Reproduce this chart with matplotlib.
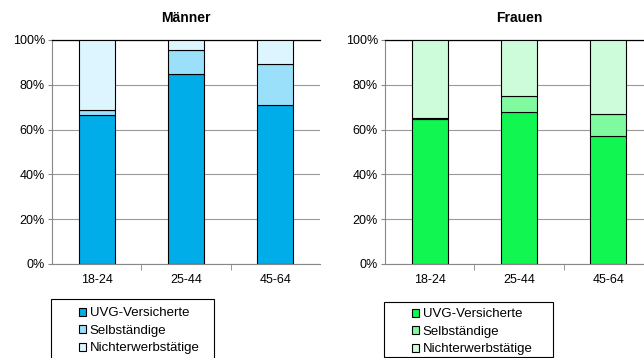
import matplotlib.pyplot as plt
from matplotlib.patches import Rectangle
import numpy as np

plt.rcParams['font.family'] = ['Liberation Sans', 'DejaVu Sans']

# data (percent)
groups = ['18-24', '25-44', '45-64']
series = ['UVG-Versicherte', 'Selbständige', 'Nichterwerbstätige']

maenner_uvg = [66.5, 84.7, 71.0]
maenner_selb = [2.2, 10.7, 18.1]
maenner_nicht = [31.3, 4.6, 10.9]

frauen_uvg = [64.7, 67.7, 57.0]
frauen_selb = [0.6, 7.3, 10.0]
frauen_nicht = [34.7, 25.0, 33.0]

blue_cols = ['#00ADE8', '#9BE0FB', '#DDF5FE']
green_cols = ['#11F650', '#80FA9F', '#CCFCD9']

W, H = 644, 358
fig = plt.figure(figsize=(W / 100, H / 100), dpi=100)


def px_axes(x0, y0, x1, y1):
    return fig.add_axes([x0 / W, 1 - y1 / H, (x1 - x0) / W, (y1 - y0) / H])


def draw_panel(ax, title, vals, cols):
    x = np.arange(len(groups))
    bottom = np.zeros(len(groups))
    handles = []
    for v, c, name in zip(vals, cols, series):
        b = ax.bar(x, v, 0.4, bottom=bottom, color=c, edgecolor='black',
                   linewidth=0.8, label=name, zorder=3)
        handles.append(b)
        bottom += np.array(v)
    ax.set_xlim(-0.5, len(groups) - 0.5)
    ax.set_ylim(0, 100)
    ax.set_yticks(np.arange(0, 101, 20))
    ax.set_yticklabels([f'{t}%' for t in range(0, 101, 20)], fontsize=9)
    ax.set_xticks(x)
    ax.set_xticklabels(groups, fontsize=9)
    ax.set_xticks(np.arange(0.5, len(groups) - 0.5, 1), minor=True)
    ax.tick_params(axis='x', which='major', length=0, pad=7)
    ax.tick_params(axis='x', which='minor', length=4, color='#888888', direction='out')
    ax.tick_params(axis='y', length=3, color='#888888', pad=2)
    ax.yaxis.grid(True, color='#999999', linewidth=0.8, zorder=0)
    ax.spines['right'].set_visible(False)
    ax.spines['top'].set_color('black')
    ax.spines['top'].set_linewidth(0.9)
    ax.spines['left'].set_color('#888888')
    ax.spines['bottom'].set_color('#888888')
    ax.set_title(title, fontsize=10, fontweight='bold', pad=13)
    return handles


ax1 = px_axes(52, 40, 320, 264)
ax2 = px_axes(385, 40, 653, 264)

h1 = draw_panel(ax1, 'Männer', [maenner_uvg, maenner_selb, maenner_nicht], blue_cols)
h2 = draw_panel(ax2, 'Frauen', [frauen_uvg, frauen_selb, frauen_nicht], green_cols)

# legend boxes
for (x0, y0, x1, y1) in [(51, 299, 214, 362), (384, 302, 553, 357)]:
    fig.patches.append(Rectangle((x0 / W, 1 - y1 / H), (x1 - x0) / W, (y1 - y0) / H,
                                 transform=fig.transFigure, fill=False,
                                 edgecolor='black', linewidth=0.8))

for handles, (lx, ly) in [(h1, (70, 298)), (h2, (403, 299))]:
    fig.legend(handles, series, loc='upper left',
               bbox_to_anchor=(lx / W, 1 - ly / H), frameon=False,
               fontsize=9.5, handlelength=0.55, handleheight=0.55,
               handletextpad=0.25, labelspacing=0.42, borderpad=0.2)

fig.savefig('out.png', dpi=100)
